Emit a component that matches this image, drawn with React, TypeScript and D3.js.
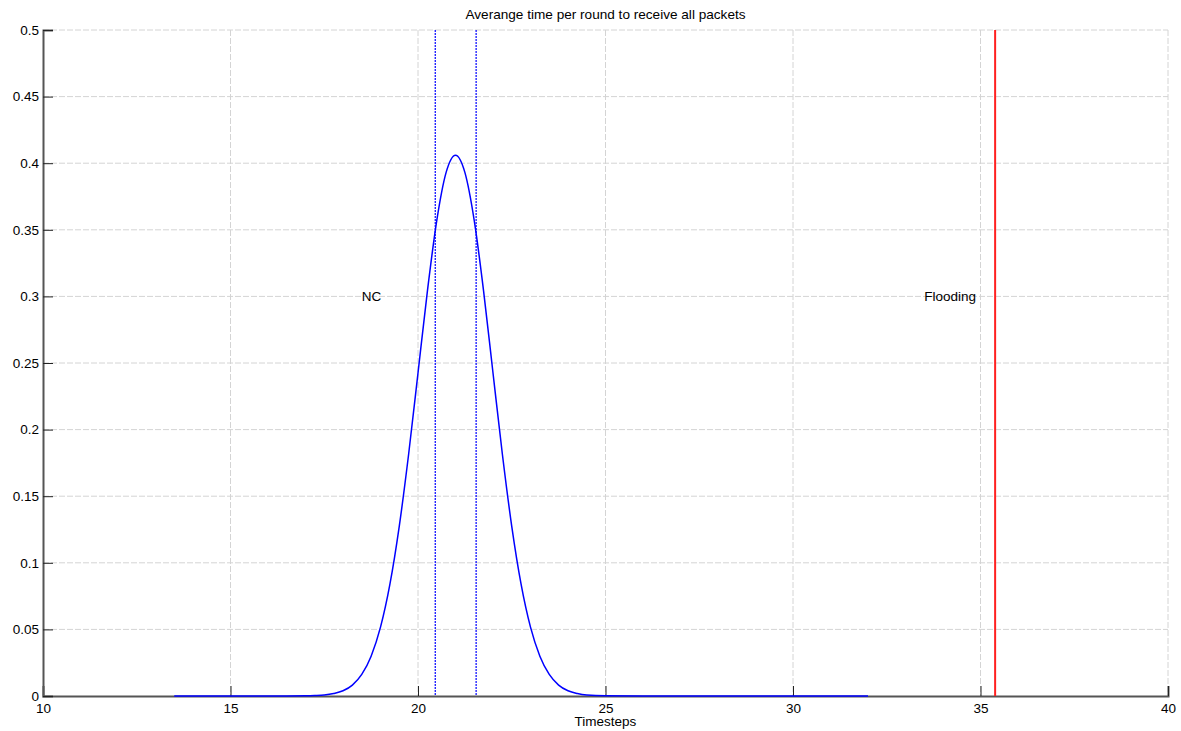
import { useEffect, useRef } from "react"
import * as d3 from "d3"

// curve (timesteps, density)
const curveX = [13.5, 15, 16, 16.5, 17, 17.25, 17.5, 17.75, 18, 18.25, 18.5, 18.75, 19, 19.25, 19.5, 19.75, 20, 20.25, 20.5, 20.75, 21, 21.25, 21.5, 21.75, 22, 22.25, 22.5, 22.75, 23, 23.25, 23.5, 23.75, 24, 24.25, 24.5, 25, 26, 28, 30, 32]
const curveY = [0, 0, 0.000001, 0.00001, 0.0001, 0.0003, 0.0007, 0.0018, 0.0039, 0.0082, 0.0162, 0.0299, 0.0517, 0.0838, 0.1274, 0.1815, 0.2425, 0.3038, 0.3569, 0.3931, 0.406, 0.3931, 0.3569, 0.3038, 0.2425, 0.1815, 0.1274, 0.0838, 0.0517, 0.0299, 0.0162, 0.0082, 0.0039, 0.0018, 0.0007, 0.0001, 0, 0, 0, 0]

const ncBounds = [20.46, 21.55]
const floodingX = [35.39]

const xTicks = [10, 15, 20, 25, 30, 35, 40]
const yTicks = [0, 0.05, 0.1, 0.15, 0.2, 0.25, 0.3, 0.35, 0.4, 0.45, 0.5]

const labels = ["NC", "Flooding"]
const labelX = [18.5, 33.5]
const labelY = [0.3, 0.3]

const font = "Arial, 'Liberation Sans', sans-serif"

export default function App() {
    const svgRef = useRef<SVGSVGElement>(null)
    const width = 1181, height = 731

    useEffect(() => {
        const margin = { top: 30, right: 13, bottom: 35, left: 43 },
            wt = width - margin.left - margin.right,
            ht = height - margin.top - margin.bottom

        d3.select(svgRef.current).selectAll("*").remove()

        const svg = d3.select(svgRef.current)
            .attr("width", width)
            .attr("height", height)
            .style("font-family", font)
            .append("g")
                .attr("transform", `translate(${margin.left},${margin.top})`)

        const x = d3.scaleLinear().domain([10, 40]).range([0, wt])
        const y = d3.scaleLinear().domain([0, 0.5]).range([ht, 0])

        // grid
        svg.append("g")
            .selectAll("line")
            .data(xTicks.slice(1))
            .join("line")
                .attr("x1", d => x(d)).attr("x2", d => x(d))
                .attr("y1", 0).attr("y2", ht)
                .attr("stroke", "#d4d4d4")
                .attr("stroke-dasharray", "6,2")
        svg.append("g")
            .selectAll("line")
            .data(yTicks.slice(1))
            .join("line")
                .attr("x1", 0).attr("x2", wt)
                .attr("y1", d => y(d)).attr("y2", d => y(d))
                .attr("stroke", "#d4d4d4")
                .attr("stroke-dasharray", "6,2")

        // axes
        const xAxis = svg.append("g")
            .attr("transform", `translate(0, ${ht})`)
            .call(d3.axisBottom(x).tickValues(xTicks).tickSize(-10).tickPadding(7).tickFormat(d3.format("d")))
        const yAxis = svg.append("g")
            .call(d3.axisLeft(y).tickValues(yTicks).tickSize(-10).tickPadding(4).tickFormat(d => String(+d)))
        for (const ax of [xAxis, yAxis]) {
            ax.select(".domain").attr("stroke", "#555").attr("stroke-width", 2)
            ax.selectAll(".tick line").attr("stroke", "#222")
            ax.selectAll("text").attr("fill", "#000").style("font-size", "13.5px")
                .style("font-family", font)
        }

        // curve
        const pts = curveX.map((v, i) => [v, curveY[i]] as [number, number])
        svg.append("path")
            .datum(pts)
            .attr("fill", "none")
            .attr("stroke", "#0000ff")
            .attr("stroke-width", 1.5)
            .attr("d", d3.line<[number, number]>().x(d => x(d[0])).y(d => y(d[1])).curve(d3.curveMonotoneX))

        // NC bounds (dotted)
        svg.append("g")
            .selectAll("line")
            .data(ncBounds)
            .join("line")
                .attr("x1", d => x(d)).attr("x2", d => x(d))
                .attr("y1", 0).attr("y2", ht)
                .attr("stroke", "#0000ff")
                .attr("stroke-width", 1.2)
                .attr("stroke-dasharray", "2,1")

        // flooding
        svg.append("g")
            .selectAll("line")
            .data(floodingX)
            .join("line")
                .attr("x1", d => x(d)).attr("x2", d => x(d))
                .attr("y1", 0).attr("y2", ht)
                .attr("stroke", "#ff2020")
                .attr("stroke-width", 2)

        // text labels
        svg.append("g")
            .selectAll("text")
            .data(labels)
            .join("text")
                .attr("x", (d, i) => x(labelX[i]))
                .attr("y", (d, i) => y(labelY[i]))
                .attr("dy", "0.35em")
                .style("font-size", "13.5px")
                .text(d => d)

        // x-axis label
        svg.append("text")
            .attr("text-anchor", "middle")
            .attr("x", wt / 2)
            .attr("y", ht + 30)
            .style("font-size", "13.5px")
            .text("Timesteps")

        // title
        svg.append("text")
            .attr("x", wt / 2)
            .attr("y", -11)
            .attr("text-anchor", "middle")
            .style("font-size", "13.6px")
            .text("Averange time per round to receive all packets")
    }, [])

    return (
        <svg ref={svgRef} style={{ position: "absolute", left: 0, top: 0, background: "#fff" }}></svg>
    )
}
